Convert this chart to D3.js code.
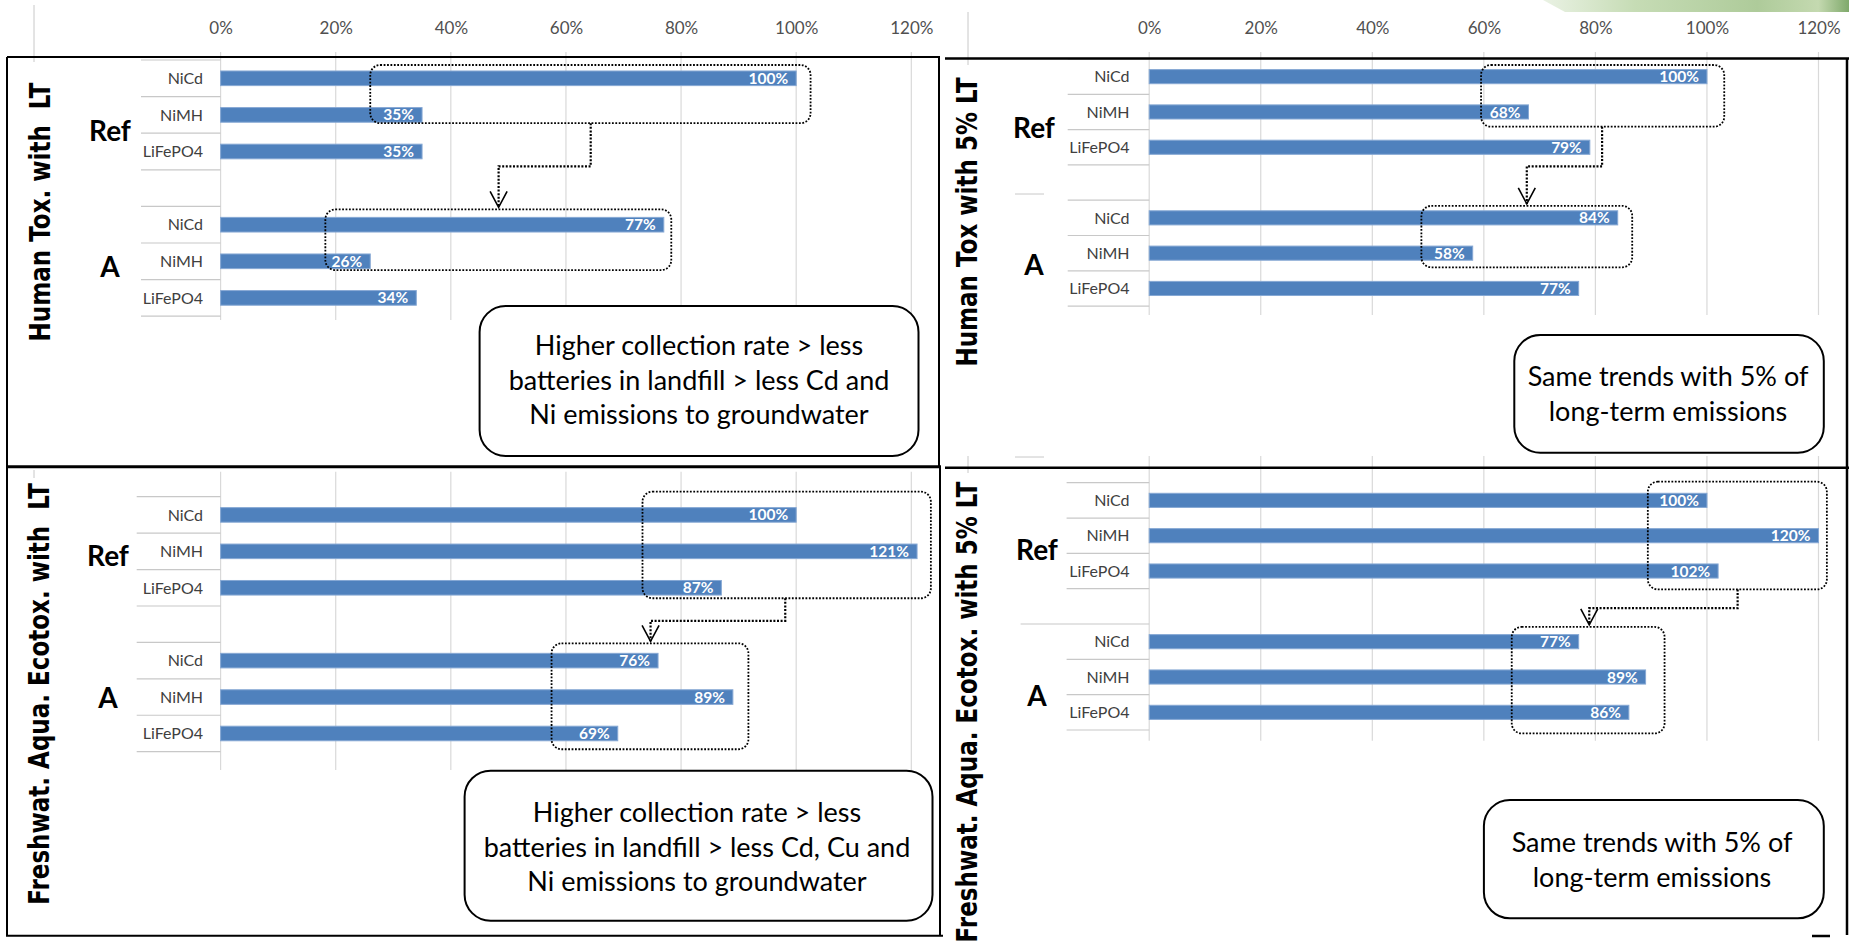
<!DOCTYPE html>
<html>
<head>
<meta charset="utf-8">
<script src="https://cdn.jsdelivr.net/npm/d3@7"></script>
<style>
  html, body { margin: 0; padding: 0; background: #fff; }
  svg { display: block; }
</style>
</head>
<body>
<svg id="chart" width="1849" height="950"></svg>
<script>
// ---------------- data ----------------
const batteries = ["NiCd", "NiMH", "LiFePO4"];
const scenarios = ["Ref", "A"];
const tickValues = [0, 20, 40, 60, 80, 100, 120];
const tickLabels = ["0%", "20%", "40%", "60%", "80%", "100%", "120%"];

// impacts relative to the Ref NiCd battery (%)
const humanToxLT_Ref = [100, 35, 35];
const humanToxLT_A   = [77, 26, 34];
const humanTox5_Ref  = [100, 68, 79];
const humanTox5_A    = [84, 58, 77];
const ecotoxLT_Ref   = [100, 121, 87];
const ecotoxLT_A     = [76, 89, 69];
const ecotox5_Ref    = [100, 120, 102];
const ecotox5_A      = [77, 89, 86];

const panelTitles = [
  "Human Tox. with  LT",
  "Human Tox with 5% LT",
  "Freshwat. Aqua. Ecotox. with  LT",
  "Freshwat. Aqua. Ecotox. with 5% LT"
];
const noteHumanLT = ["Higher collection rate > less", "batteries in landfill > less Cd and", "Ni emissions to groundwater"];
const noteEcoLT   = ["Higher collection rate > less", "batteries in landfill > less Cd, Cu and", "Ni emissions to groundwater"];
const note5pct    = ["Same trends with 5% of", "long-term emissions"];

// ---------------- layout ----------------
const svg = d3.select("#chart");
const BAR = "#4f81bd";
const GRID = "#d9d9d9";
const SEP = "#c8c8c8";
const LABEL = "#404040";
const SANS = "Lato, 'Open Sans', sans-serif";

const panels = [
  { title: panelTitles[0], ref: humanToxLT_Ref, a: humanToxLT_A, note: noteHumanLT, axis: true,
    xr: [220.6, 911.3], yr: [60, 316.2], grid: [52, 320], sepX: 141, labelX: 203,
    groupX: 110, refBase: 141, aBase: 277, titleX: 50, titleY: 212,
    refBox: { v: [26, 102.5], rows: [0, 1], pad: [6, 1] },
    aBox: { v: [18.2, 78.3], rows: [4, 5], pad: [8, 1.5] }, link: [64.3, 48.3],
    noteBox: [479.6, 306, 918.5, 456], noteX: 699, noteBase: 355 },
  { title: panelTitles[1], ref: humanTox5_Ref, a: humanTox5_A, note: note5pct, axis: true,
    xr: [1149.2, 1818.5], yr: [59, 306.1], grid: [52, 315], sepX: 1067.7, labelX: 1129.5,
    groupX: 1034, refBase: 138, aBase: 275, titleX: 977, titleY: 222,
    refBox: { v: [59.5, 103.1], rows: [0, 1], pad: [4.6, 7.7] },
    aBox: { v: [48.8, 86.6], rows: [4, 5], pad: [4.9, 7.1] }, link: [81.2, 67.7],
    noteBox: [1514.3, 335, 1823.8, 452.7], noteX: 1668, noteBase: 386 },
  { title: panelTitles[2], ref: ecotoxLT_Ref, a: ecotoxLT_A, note: noteEcoLT, axis: false,
    xr: [220.6, 911.3], yr: [496.7, 751.7], grid: [471.7, 770], sepX: 136.7, labelX: 203,
    groupX: 108, refBase: 566, aBase: 708, titleX: 49, titleY: 694,
    refBox: { v: [73.3, 123.4], rows: [0, 2], pad: [16, 3.2] },
    aBox: { v: [57.5, 91.7], rows: [4, 6], pad: [10, 8.5] }, link: [98.1, 74.7],
    noteBox: [464.6, 770.7, 932.5, 920.7], noteX: 697, noteBase: 822 },
  { title: panelTitles[3], ref: ecotox5_Ref, a: ecotox5_A, note: note5pct, axis: false,
    xr: [1149.2, 1818.5], yr: [482.7, 730], grid: [456, 740.7], sepX: 1066.6, labelX: 1129.5,
    groupX: 1037, refBase: 560, aBase: 706, titleX: 977, titleY: 712, longSep: 4,
    refBox: { v: [89.4, 121.5], rows: [0, 2], pad: [11.6, 11.3] },
    aBox: { v: [65.0, 92.4], rows: [4, 6], pad: [7.7, 14] }, link: [105.5, 78.9],
    noteBox: [1483.9, 800, 1823.8, 918.3], noteX: 1652, noteBase: 852 }
];

// green ribbon in the top right corner
const defs = svg.append("defs");
const ribbon = defs.append("linearGradient").attr("id", "ribbon").attr("x1", 0).attr("x2", 1);
ribbon.selectAll("stop")
  .data([[0, "#eaf2e4"], [0.3, "#c6dcb5"], [0.7, "#aecb9a"], [0.9, "#c4d9b0"], [1, "#7fa96b"]])
  .join("stop").attr("offset", d => d[0]).attr("stop-color", d => d[1]);
svg.append("path").attr("d", "M1543,0 L1849,0 L1849,12 L1565,12 Z").attr("fill", "url(#ribbon)");

// faint remains of the outer chart frames
const faint = svg.append("g").attr("stroke", "#c8c8c8").attr("stroke-width", 1);
[[34, 5, 34, 62], [968, 12, 968, 65], [34, 470, 34, 478], [968, 456, 968, 473],
 [1015, 194, 1044, 194], [1015, 457, 1044, 457]].forEach(l =>
  faint.append("line").attr("x1", l[0]).attr("y1", l[1]).attr("x2", l[2]).attr("y2", l[3]));

panels.forEach(p => {
  const rows = [];
  scenarios.forEach((s, si) => {
    const vals = si === 0 ? p.ref : p.a;
    batteries.forEach((b, bi) => rows.push({ key: s + "|" + b, scenario: s, battery: b, value: vals[bi] }));
    if (si === 0) rows.push({ key: "gap", gap: true });
  });

  const x = d3.scaleLinear().domain([0, 120]).range(p.xr);
  const y = d3.scaleBand().domain(rows.map(r => r.key)).range(p.yr)
    .paddingInner(0.6).paddingOuter(0.3);
  const step = y.step();

  const g = svg.append("g");

  // vertical gridlines
  g.append("g").selectAll("line").data(tickValues).join("line")
    .attr("x1", d => x(d)).attr("x2", d => x(d))
    .attr("y1", p.grid[0]).attr("y2", p.grid[1])
    .attr("stroke", GRID).attr("stroke-width", 1.2);

  // category separators
  g.append("g").selectAll("line").data(d3.range(rows.length + 1)).join("line")
    .attr("x1", i => (p.longSep === i ? p.sepX - 46 : p.sepX)).attr("x2", p.xr[0])
    .attr("y1", i => p.yr[0] + i * step).attr("y2", i => p.yr[0] + i * step)
    .attr("stroke", SEP).attr("stroke-width", 1.2);

  // top percentage axis
  if (p.axis) {
    const ax = g.append("g").attr("transform", "translate(0,33.5)")
      .call(d3.axisTop(x).tickValues(tickValues).tickFormat((d, i) => tickLabels[i])
        .tickSize(0).tickPadding(0));
    ax.select(".domain").remove();
    ax.selectAll("text").attr("font-family", SANS).attr("font-size", 17).attr("fill", "#505050");
  }

  const data = rows.filter(r => !r.gap);

  // bars
  g.append("g").selectAll("rect").data(data).join("rect")
    .attr("x", x(0)).attr("y", d => y(d.key))
    .attr("width", d => x(d.value) - x(0)).attr("height", y.bandwidth())
    .attr("fill", BAR).attr("stroke", "#86a8d4").attr("stroke-width", 1);

  // value labels inside bar ends
  g.append("g").selectAll("text").data(data).join("text")
    .attr("x", d => x(d.value) - 8).attr("y", d => y(d.key) + y.bandwidth() / 2)
    .attr("dy", "0.36em").attr("text-anchor", "end")
    .attr("font-family", SANS).attr("font-weight", 700).attr("font-size", 15.5)
    .attr("fill", "#fff").text(d => d.value + "%");

  // battery names
  g.append("g").selectAll("text").data(data).join("text")
    .attr("x", p.labelX).attr("y", d => y(d.key) + y.bandwidth() / 2)
    .attr("dy", "0.36em").attr("text-anchor", "end")
    .attr("font-family", SANS).attr("font-size", 16).attr("fill", LABEL)
    .text(d => d.battery);

  // scenario names
  [[scenarios[0], p.refBase], [scenarios[1], p.aBase]].forEach(([s, base]) =>
    g.append("text").attr("x", p.groupX).attr("y", base).attr("text-anchor", "middle")
      .attr("font-family", SANS).attr("font-weight", 700).attr("font-size", 28)
      .attr("fill", "#000").text(s));

  // dotted highlight boxes and the connector arrow
  const barTop = i => y(rows[i].key);
  const barBot = i => y(rows[i].key) + y.bandwidth();
  const boxGeom = b => ({
    x0: x(b.v[0]), x1: x(b.v[1]),
    y0: barTop(b.rows[0]) - b.pad[0], y1: barBot(b.rows[1]) + b.pad[1]
  });
  const rb = boxGeom(p.refBox), ab = boxGeom(p.aBox);
  const dots = g.append("g").attr("fill", "none").attr("stroke", "#000")
    .attr("stroke-width", 1.8).attr("stroke-dasharray", "1.8 1.6");
  [rb, ab].forEach(b => dots.append("rect")
    .attr("x", b.x0).attr("y", b.y0).attr("width", b.x1 - b.x0).attr("height", b.y1 - b.y0)
    .attr("rx", 10).attr("ry", 10));
  const midY = (rb.y1 + ab.y0) / 2;
  const tipY = ab.y0 - 2;
  const lx0 = x(p.link[0]), lx1 = x(p.link[1]);
  dots.append("path").attr("stroke-width", 2.2).attr("stroke-dasharray", "2 1.6")
    .attr("d", `M${lx0},${rb.y1} V${midY} H${lx1} V${tipY}`);
  g.append("path").attr("fill", "none").attr("stroke", "#000").attr("stroke-width", 1.6)
    .attr("d", `M${lx1 - 8.5},${tipY - 16} L${lx1},${tipY} L${lx1 + 8.5},${tipY - 16}`);

  // rounded note box
  const nb = p.noteBox;
  g.append("rect").attr("x", nb[0]).attr("y", nb[1]).attr("width", nb[2] - nb[0]).attr("height", nb[3] - nb[1])
    .attr("rx", 26).attr("ry", 26).attr("fill", "#fff").attr("stroke", "#000").attr("stroke-width", 2);
  g.append("g").selectAll("text").data(p.note).join("text")
    .attr("x", p.noteX).attr("y", (d, i) => p.noteBase + i * 34.5)
    .attr("text-anchor", "middle").attr("font-family", SANS).attr("font-size", 27)
    .attr("fill", "#000").text(d => d);
});

// panel frames
const frame = svg.append("g").attr("fill", "none").attr("stroke", "#000");
frame.append("path").attr("stroke-width", 2)
  .attr("d", "M7,57 H939 V466.7 M7,57 V935.7 H943 M940,466.7 V935.7");
frame.append("path").attr("stroke-width", 3).attr("d", "M7,466.7 H941");
frame.append("path").attr("stroke-width", 2.5)
  .attr("d", "M945,58.5 H1849 M1847,58.5 V935 M945,467.7 H1849 M1812,936 H1830");

// rotated panel titles
panels.forEach(p => {
  svg.append("text")
    .attr("transform", `translate(${p.titleX},${p.titleY}) rotate(-90) scale(0.8,1)`)
    .attr("text-anchor", "middle")
    .attr("font-family", "'DejaVu Sans', Verdana, sans-serif").attr("font-weight", 700)
    .attr("font-size", 28.8).attr("fill", "#000")
    .style("white-space", "pre").attr("xml:space", "preserve")
    .text(p.title);
});
</script>
</body>
</html>
